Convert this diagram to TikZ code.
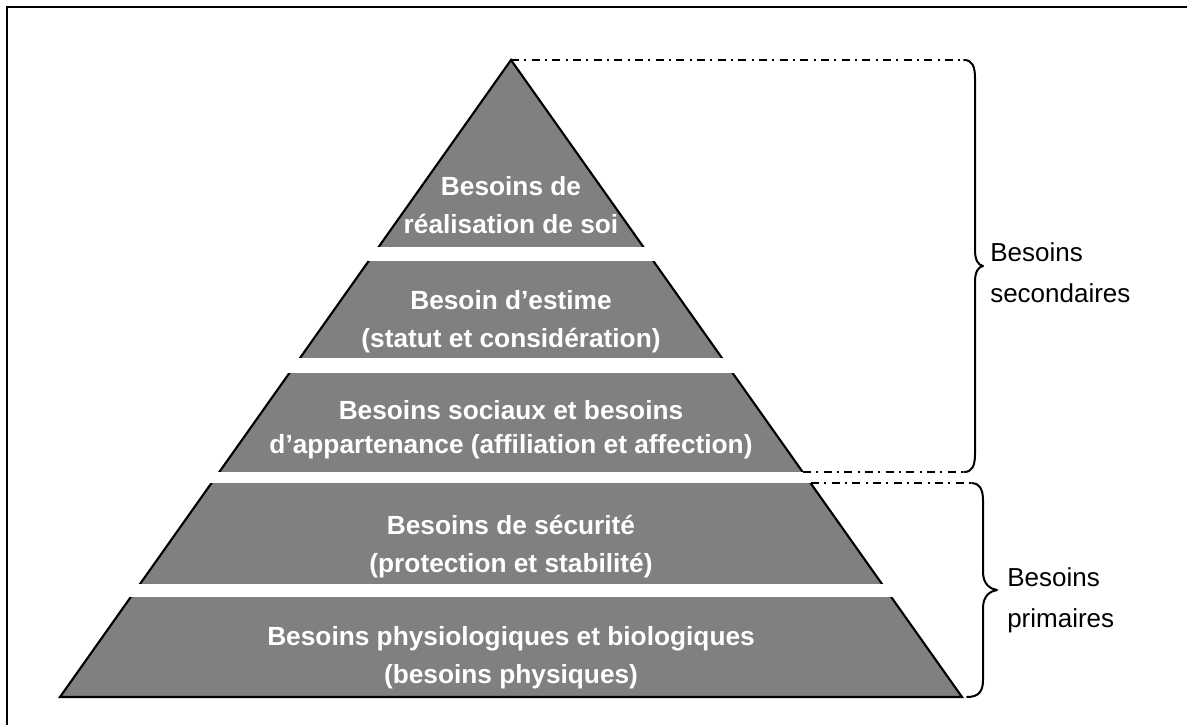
\documentclass[tikz,border=0pt]{standalone}
\usepackage{fontspec}
\setmainfont{Liberation Sans}
\begin{document}
\begin{tikzpicture}[x=0.75pt,y=-0.75pt,
  level/.style={font=\bfseries\fontsize{19.7}{28.5}\selectfont, text=white, align=center, anchor=base, inner sep=0pt},
  side/.style={font=\fontsize{19.5}{30.75}\selectfont, align=left, anchor=base west, inner sep=0pt},
  guide/.style={line width=1.5pt, dash pattern=on 6pt off 4pt on 1.5pt off 4pt},
  bracket/.style={line width=1.5pt, line cap=round, line join=round},
  gap/.style={fill=white}]
\useasboundingbox (0,0) rectangle (1187,724);
% frame
\draw[line width=2pt] (7,730) -- (7,7) -- (1195,7);
% pyramid
\coordinate (apex) at (511,60);
\coordinate (bl) at (60,697);
\coordinate (br) at (962,697);
\filldraw[fill=gray, line width=1.6pt, line join=miter] (apex) -- (br) -- (bl) -- cycle;
% white separations between the levels
\fill[gap] (30,247) rectangle (970,261);
\fill[gap] (30,358) rectangle (970,373);
\fill[gap] (30,472) rectangle (970,483);
\fill[gap] (30,584) rectangle (970,597);
% level texts (anchored on the baseline of the last line)
\node[level] (lvl1) at (511,233) {Besoins de\\réalisation de soi};
\node[level] (lvl2) at (511,347) {Besoin d’estime\\(statut et considération)};
\node[level, font=\bfseries\fontsize{19.7}{25.5}\selectfont] (lvl3) at (511,453) {Besoins sociaux et besoins\\d’appartenance (affiliation et affection)};
\node[level] (lvl4) at (511,572) {Besoins de sécurité\\(protection et stabilité)};
\node[level] (lvl5) at (511,683) {Besoins physiologiques et biologiques\\(besoins physiques)};
% guide lines
\coordinate (g1) at (964,60);
\coordinate (g2a) at (803,472);
\coordinate (g2b) at (964,472);
\coordinate (g3a) at (811,483);
\coordinate (g3b) at (972,483);
\draw[guide] (apex) -- (g1);
\draw[guide] (g2a) -- (g2b);
\draw[guide] (g3a) -- (g3b);
% braces
\draw[bracket] (g1) .. controls (972,60) and (975,66) .. (975,78) -- (975,250)
  .. controls (975,260) and (978,265) .. (983,266)
  .. controls (978,267) and (975,272) .. (975,282) -- (975,454)
  .. controls (975,466) and (972,472) .. (g2b);
\draw[bracket] (g3b) .. controls (979,483) and (983,489) .. (983,500) -- (983,572)
  .. controls (983,584) and (990,589) .. (997,590)
  .. controls (990,591) and (983,596) .. (983,608) -- (983,680)
  .. controls (983,691) and (979,697) .. (967,697);
% side labels (anchored on the baseline of the last line)
\node[side] (sec) at (990,302) {Besoins\\secondaires};
\node[side] (prim) at (1007,627) {Besoins\\primaires};
\end{tikzpicture}
\end{document}
